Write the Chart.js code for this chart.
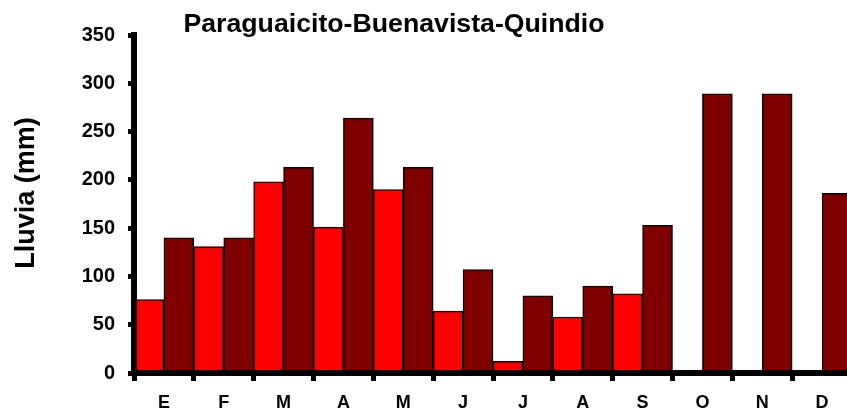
<!DOCTYPE html>
<html>
<head>
<meta charset="utf-8">
<script src="https://cdn.jsdelivr.net/npm/chart.js@4/dist/chart.umd.min.js"></script>
<style>
  html, body { margin: 0; padding: 0; background: #fff; overflow: hidden; }
  #wrap { width: 870px; height: 415px; }
</style>
</head>
<body>
<div id="wrap"><canvas id="lluviaChart" width="870" height="415"></canvas></div>
<script>
const months = ['E', 'F', 'M', 'A', 'M', 'J', 'J', 'A', 'S', 'O', 'N', 'D'];
const serieRoja = [76, 131, 198, 151, 190, 64, 12, 58, 82, null, null, null];
const serieOscura = [140, 140, 213, 264, 213, 107, 80, 90, 153, 289, 289, 186];
const yTicks = [0, 50, 100, 150, 200, 250, 300, 350];

const chartTitle = 'Paraguaicito-Buenavista-Quindio';
const yTitle = 'Lluvia (mm)';
const fontFamily = '"Liberation Sans", Arial, sans-serif';

// titles drawn by hand so they sit where the original has them
const textPlugin = {
    id: 'textPlugin',
    afterDraw(chart) {
        const ctx = chart.ctx;
        ctx.save();
        ctx.fillStyle = '#000';
        ctx.font = 'bold 26.7px ' + fontFamily;
        ctx.textAlign = 'center';
        ctx.textBaseline = 'alphabetic';
        ctx.fillText(chartTitle, 394, 32);

        ctx.translate(34, 193);
        ctx.rotate(-Math.PI / 2);
        ctx.font = 'bold 27px ' + fontFamily;
        ctx.fillText(yTitle, 0, 0);
        ctx.restore();
    }
};

// no outline for the missing months
const barBorder = (c) => (c.raw == null ? 0 : 1.5);

const ctx = document.getElementById('lluviaChart').getContext('2d');
new Chart(ctx, {
    type: 'bar',
    data: {
        labels: months,
        datasets: [{
            data: serieRoja,
            backgroundColor: '#ff0000',
            borderColor: '#000',
            borderWidth: barBorder
        }, {
            data: serieOscura,
            backgroundColor: '#800000',
            borderColor: '#000',
            borderWidth: barBorder
        }]
    },
    options: {
        responsive: false,
        animation: false,
        datasets: {
            bar: {
                barPercentage: 1,
                categoryPercentage: 1
            }
        },
        layout: {
            padding: { top: 35, right: 18, bottom: 0, left: 0 }
        },
        plugins: {
            legend: { display: false },
            title: { display: false },
            tooltip: { enabled: false }
        },
        scales: {
            x: {
                afterFit: (scale) => { scale.height = 42; },
                grid: {
                    drawOnChartArea: false,
                    offset: true,
                    tickLength: 8,
                    tickWidth: 5,
                    tickColor: '#000'
                },
                // axis lines go over the bar bottoms, as in the original
                border: { display: true, color: '#000', width: 6, z: 1 },
                ticks: {
                    color: '#000',
                    padding: 11,
                    maxRotation: 0,
                    font: { family: fontFamily, size: 18, weight: 'bold' }
                }
            },
            y: {
                min: 0,
                max: 350,
                afterFit: (scale) => { scale.width = 134; },
                afterBuildTicks: (scale) => {
                    scale.ticks = yTicks.map(v => ({ value: v }));
                },
                grid: {
                    drawOnChartArea: false,
                    tickLength: 6,
                    tickWidth: 5,
                    tickColor: '#000'
                },
                border: { display: true, color: '#000', width: 6, z: 1 },
                ticks: {
                    color: '#000',
                    padding: 13,
                    font: { family: fontFamily, size: 20, weight: 'bold' }
                }
            }
        }
    },
    plugins: [textPlugin]
});
</script>
</body>
</html>
